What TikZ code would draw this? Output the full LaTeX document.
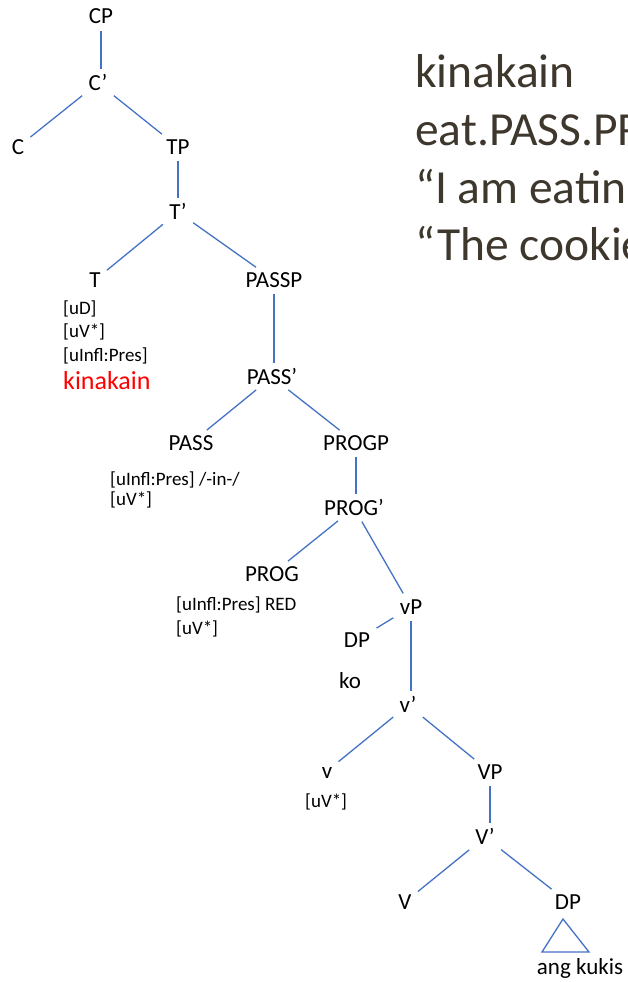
\documentclass[tikz,border=0pt]{standalone}
\usepackage{fontspec}
\setmainfont{Carlito}
\definecolor{branchblue}{RGB}{68,114,196}
\definecolor{glossgray}{RGB}{62,55,45}

\begin{document}
\begin{tikzpicture}[x=1pt, y=-1pt,
   cat/.style={inner sep=0pt, outer sep=4pt, text height=14pt, text depth=0pt,
     font=\fontsize{23}{27}\selectfont},
   feat/.style={anchor=base west, inner sep=0pt, font=\fontsize{19}{22}\selectfont},
   branch/.style={draw=branchblue, line width=1.3pt, shorten <=3pt, shorten >=3pt},
   gloss/.style={anchor=base west, inner sep=0pt, text=glossgray,
     font=\fontsize{47.5}{56}\selectfont}]
   \useasboundingbox (0,0) rectangle (627,982);
   \node[cat] (cp) at (101,17) {CP};
   \node[cat] (cbar) at (98,83) {C’};
   \node[cat] (c) at (18,147) {C};
   \node[cat] (tp) at (178,147) {TP};
   \node[cat] (tbar) at (178,212) {T’};
   \node[cat] (t) at (95,280) {T};
   \node[cat] (passp) at (274,280) {PASSP};
   \node[feat] (tfeat1) at (63,314) {[uD]};
   \node[feat] (tfeat2) at (63,337) {[uV*]};
   \node[feat] (tfeat3) at (63,361) {[uInfl:Pres]};
   \node[feat, text=red, font=\fontsize{26}{30}\selectfont] (verb) at (63,389) {kinakain};
   \node[cat] (passbar) at (272,377) {PASS’};
   \node[cat] (pass) at (191,443) {PASS};
   \node[cat] (progp) at (356,443) {PROGP};
   \node[feat] (passfeat1) at (110,485) {[uInfl:Pres] /-in-/};
   \node[feat] (passfeat2) at (110,505) {[uV*]};
   \node[cat] (progbar) at (354,508) {PROG’};
   \node[cat] (prog) at (272,574) {PROG};
   \node[feat] (progfeat1) at (176,610) {[uInfl:Pres] RED};
   \node[feat] (progfeat2) at (176,634) {[uV*]};
   \node[cat] (vp) at (411,607) {vP};
   \node[cat] (dpsubj) at (357,640) {DP};
   \node[cat] (ko) at (350,681) {ko};
   \node[cat] (vbar) at (408,705) {v’};
   \node[cat] (v) at (327,771) {v};
   \node[feat] (vfeat) at (305,807) {[uV*]};
   \node[cat] (bigvp) at (490,772) {VP};
   \node[cat] (bigvbar) at (485,837) {V’};
   \node[cat] (bigv) at (405,902) {V};
   \node[cat] (dpobj) at (568,902) {DP};
   \coordinate (apex) at (563,919);
   \node[feat, anchor=base, font=\fontsize{23}{27}\selectfont] (obj) at (580,974) {ang kukis};
   \draw[branch] (cp) -- (cp |- cbar.north); \draw[branch] (cbar) -- (c);
   \draw[branch] (cbar) -- (tp);
   \draw[branch] (tp) -- (tp |- tbar.north); \draw[branch] (tbar) -- (t);
   \draw[branch] (tbar) -- (passp);
   \draw[branch] (passp) -- (passp |- passbar.north); \draw[branch] (passbar) -- (pass);
   \draw[branch] (passbar) -- (progp);
   \draw[branch] (progp) -- (progp |- progbar.north); \draw[branch] (progbar) -- (prog);
   \draw[branch] (progbar) -- (vp);
   \draw[branch] (vp) -- (dpsubj); \draw[branch] (vp) -- (vp |- vbar.north);
   \draw[branch] (vbar) -- (v); \draw[branch] (vbar) -- (bigvp);
   \draw[branch] (bigvp) -- (bigvp |- bigvbar.north); \draw[branch] (bigvbar) -- (bigv);
   \draw[branch] (bigvbar) -- (dpobj);
   \draw[draw=branchblue, line width=1.3pt] (apex) -- ++(-21,33) -- ++(47,0) -- cycle;
   \node[gloss] (gloss1) at (415,87) {kinakain};
   \node[gloss] (gloss2) at (415,145) {eat.PASS.PR};
   \node[gloss] (gloss3) at (415,203) {“I am eatin};
   \node[gloss] (gloss4) at (415,260) {“The cookie};
\end{tikzpicture}
\end{document}
